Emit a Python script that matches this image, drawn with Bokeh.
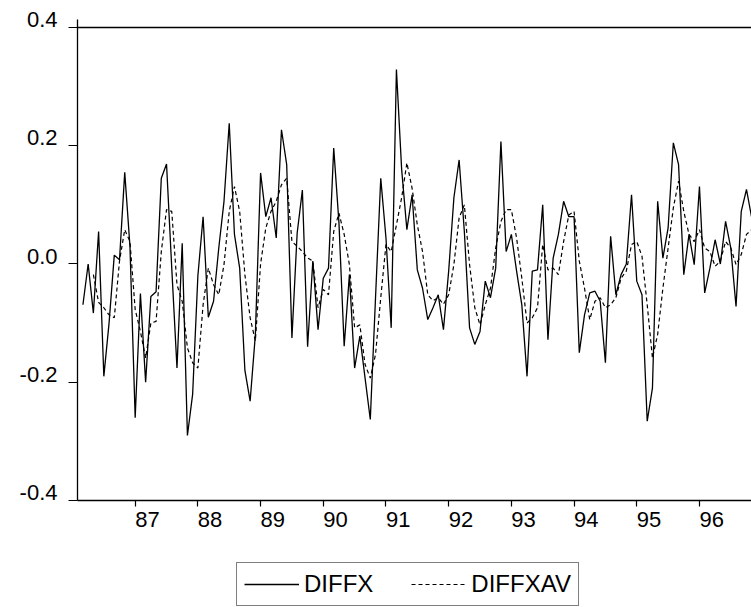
import numpy as np
import pandas as pd
from bokeh.plotting import figure
from bokeh.layouts import column
from bokeh.models import (ColumnDataSource, FixedTicker, LinearAxis, Legend,
                          LegendItem, Range1d, Span)
from bokeh.embed import file_html
from bokeh.resources import INLINE

# ---------------- data ----------------
start_month = "1986-03"

diffx = [
    -0.069, 0.000, -0.083, 0.055, -0.190, -0.100, 0.015, 0.007, 0.155, 0.030,
    -0.260, -0.050, -0.200, -0.055, -0.047, 0.145, 0.169, -0.007, -0.176, 0.035,
    -0.290, -0.220, -0.020, 0.080, -0.090, -0.063, 0.027, 0.106, 0.238, 0.050,
    -0.007, -0.180, -0.232, -0.120, 0.154, 0.080, 0.112, 0.044, 0.227, 0.168,
    -0.125, 0.052, 0.125, -0.140, 0.005, -0.111, -0.024, -0.007, 0.196, 0.070,
    -0.139, -0.018, -0.176, -0.122, -0.193, -0.263, -0.057, 0.145, 0.044, -0.108,
    0.329, 0.160, 0.058, 0.117, -0.010, -0.041, -0.094, -0.074, -0.052, -0.111,
    -0.012, 0.112, 0.176, 0.055, -0.108, -0.136, -0.114, -0.029, -0.057, -0.007,
    0.207, 0.021, 0.050, -0.012, -0.069, -0.190, -0.012, -0.010, 0.100, -0.128,
    0.010, 0.050, 0.106, 0.080, 0.080, -0.150, -0.086, -0.049, -0.046, -0.063,
    -0.167, 0.047, -0.052, -0.018, 0.000, 0.117, -0.029, -0.052, -0.266, -0.210,
    0.106, 0.010, 0.061, 0.205, 0.168, -0.018, 0.050, -0.001, 0.131, -0.049,
    -0.007, 0.041, 0.000, 0.072, 0.027, -0.072, 0.089, 0.126, 0.078,
]

diffxav = [
    np.nan, np.nan, -0.018, -0.065, -0.074, -0.086, -0.091, 0.005, 0.058, 0.038,
    -0.077, -0.114, -0.159, -0.100, -0.097, 0.021, 0.092, 0.089, -0.035, -0.063,
    -0.142, -0.167, -0.176, -0.069, -0.007, -0.035, -0.052, -0.001, 0.089, 0.131,
    0.089, -0.018, -0.091, -0.130, 0.000, 0.061, 0.089, 0.106, 0.134, 0.145,
    0.038, 0.030, 0.021, 0.010, 0.005, -0.074, -0.043, -0.052, 0.055, 0.086,
    0.050, -0.001, -0.108, -0.103, -0.170, -0.193, -0.153, -0.057, 0.033, 0.021,
    0.066, 0.112, 0.171, 0.128, 0.066, 0.021, -0.052, -0.062, -0.057, -0.068,
    -0.052, -0.001, 0.078, 0.100, -0.001, -0.074, -0.103, -0.069, -0.041, 0.027,
    0.072, 0.092, 0.092, 0.044, -0.024, -0.100, -0.091, -0.074, 0.033, -0.010,
    -0.007, -0.018, 0.038, 0.083, 0.089, 0.005, -0.041, -0.094, -0.063, -0.057,
    -0.074, -0.069, -0.057, -0.024, -0.012, 0.033, 0.038, 0.013, -0.069, -0.159,
    -0.119, -0.041, 0.027, 0.095, 0.140, 0.089, 0.050, 0.038, 0.058, 0.027,
    0.021, -0.004, 0.005, 0.038, 0.027, -0.001, 0.016, 0.050, 0.058,
]

y_ticks = [-0.4, -0.2, 0.0, 0.2, 0.4]
y_tick_labels = ["-0.4", "-0.2", "0.0", "0.2", "0.4"]
x_tick_years = [1987, 1988, 1989, 1990, 1991, 1992, 1993, 1994, 1995, 1996]
x_tick_labels = ["87", "88", "89", "90", "91", "92", "93", "94", "95", "96"]

series_names = ["DIFFX", "DIFFXAV"]

# ---------------- build ----------------
months = pd.period_range(start_month, periods=len(diffx), freq="M")
t = np.asarray(months.year + (months.month - 1) / 12.0, dtype=float)

src = ColumnDataSource(dict(t=t, diffx=np.array(diffx, dtype=float),
                            diffxav=np.array(diffxav, dtype=float)))

FONT = "Liberation Sans"
X0, X1 = 1986.08, 1996.83
Y0, Y1 = -0.4, 0.4
# EViews-style label placement: year labels start at their tick,
# value labels sit on top of their tick.  Done with shifted label ranges.
DX = 0.195
DY = 0.0135

SOLID = dict(line_color="black", line_width=1.3)
DASHED = dict(line_color="black", line_width=1.2, line_dash="4 3")

p = figure(width=751, height=545, output_backend="svg", toolbar_location=None,
           x_range=Range1d(X0, X1), y_range=Range1d(Y0, Y1 + DY),
           min_border_left=77, min_border_right=0, min_border_top=19,
           min_border_bottom=45, background_fill_color="white",
           border_fill_color="white", outline_line_color=None,
           x_axis_location=None, y_axis_location=None)
p.grid.visible = False
p.extra_x_ranges = {"xlab": Range1d(X0 - DX, X1 - DX)}
p.extra_y_ranges = {"ylab": Range1d(Y0 - DY, Y1)}

p.line("t", "diffx", source=src, **SOLID)
p.line("t", "diffxav", source=src, **DASHED)

# top frame line at the 0.4 level
p.add_layout(Span(location=Y1, dimension="width", line_color="black",
                  line_width=1.3))

# --- x axis: labels on major ticks (hidden marks), visible marks as minor ticks
xa = LinearAxis(x_range_name="xlab",
                ticker=FixedTicker(ticks=x_tick_years,
                                   minor_ticks=[y - DX for y in x_tick_years]),
                major_label_overrides={y: l for y, l in zip(x_tick_years, x_tick_labels)},
                axis_line_width=1.3, axis_line_color="black",
                major_tick_line_color=None, major_tick_in=0, major_tick_out=6,
                minor_tick_line_color="black", minor_tick_line_width=1.2,
                minor_tick_in=0, minor_tick_out=6,
                major_label_standoff=5, major_label_text_font=FONT,
                major_label_text_font_size="22px", major_label_text_color="black")
p.add_layout(xa, "below")

# --- y axis
ya = LinearAxis(y_range_name="ylab",
                ticker=FixedTicker(ticks=y_ticks,
                                   minor_ticks=[v - DY for v in y_ticks]),
                major_label_overrides={v: l for v, l in zip(y_ticks, y_tick_labels)},
                axis_line_width=1.3, axis_line_color="black",
                major_tick_line_color=None, major_tick_in=0, major_tick_out=9,
                minor_tick_line_color="black", minor_tick_line_width=1.2,
                minor_tick_in=0, minor_tick_out=9,
                major_label_standoff=11, major_label_text_font=FONT,
                major_label_text_font_size="22px", major_label_text_color="black")
p.add_layout(ya, "left")

# --- legend strip under the chart (its frame is aligned with the chart frame)
pl = figure(width=751, height=62, output_backend="svg", toolbar_location=None,
            x_range=Range1d(0, 1), y_range=Range1d(0, 1),
            min_border=0, min_border_left=0, min_border_right=0,
            min_border_top=0, min_border_bottom=0,
            background_fill_color="white", border_fill_color="white",
            outline_line_color=None, x_axis_location=None, y_axis_location=None)
pl.grid.visible = False
# same series, outside this strip's view: they only provide the legend glyphs
k1 = pl.line("t", "diffx", source=src, **SOLID)
k2 = pl.line("t", "diffxav", source=src, **DASHED)
legend = Legend(items=[LegendItem(label=series_names[0], renderers=[k1]),
                       LegendItem(label=series_names[1], renderers=[k2])],
                orientation="horizontal", location=(159, 1),
                border_line_color="black", border_line_width=1,
                background_fill_color="white", background_fill_alpha=1.0,
                padding=7, spacing=38, glyph_width=55, label_standoff=5,
                label_text_font=FONT, label_text_font_size="24px",
                label_text_color="black", margin=0)
pl.add_layout(legend, "center")

layout = column(p, pl, spacing=0)
open("out.html", "w").write(file_html(layout, INLINE))
